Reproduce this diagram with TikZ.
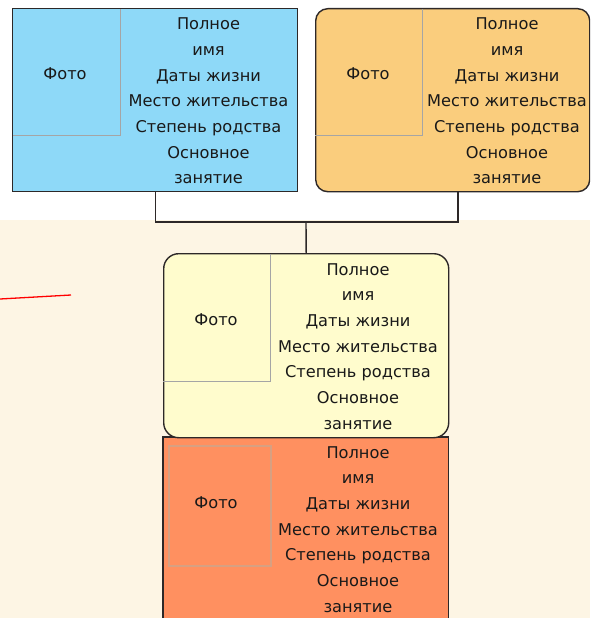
\documentclass[tikz,border=0pt]{standalone}
\usepackage{fontspec}
\setmainfont{DejaVu Sans}
\usetikzlibrary{calc}
\definecolor{cblue}{RGB}{142,217,248}
\definecolor{corange}{RGB}{250,205,125}
\definecolor{cyellow}{RGB}{255,252,205}
\definecolor{cred}{RGB}{255,144,96}
\definecolor{cbeige}{RGB}{253,245,228}
\definecolor{cframe}{RGB}{45,40,40}
\definecolor{cphoto}{RGB}{165,165,165}
\definecolor{cphotored}{RGB}{215,160,130}
\tikzset{
  card/.style={draw=cframe, line width=1.4pt, anchor=north west, inner sep=0pt},
  photo/.style={anchor=north west, inner sep=0pt},
  photoline/.style={draw=cphoto, line width=0.8pt},
  info/.style={align=center, font=\fontsize{16.2}{25.67}\selectfont, inner sep=0pt, text=black!90},
  phototext/.style={font=\fontsize{16.2}{18}\selectfont, inner sep=0pt, text=black!90},
  conn/.style={draw=cframe, line width=1.4pt},
}
\newcommand{\infotext}{Полное\\имя\\Даты жизни\\Место жительства\\Степень родства\\Основное\\занятие}
\begin{document}
\begin{tikzpicture}[x=1pt,y=-1pt]
\useasboundingbox (0,0) rectangle (590,618);
\clip (0,0) rectangle (590,618);
\fill[white] (0,0) rectangle (590,220);
\fill[cbeige] (0,220) rectangle (590,618);
% box 1
\node[card, fill=cblue, minimum width=285pt, minimum height=183pt] (b1) at (12,8) {};
\node[photo, minimum width=107pt, minimum height=126pt] (p1) at (13,9) {};
\draw[photoline] (p1.north east) -- (p1.south east) -- (p1.south west);
\node[phototext] (f1) at (65,74) {Фото};
\node[info] (t1) at (208.5,101) {\infotext};
% box 2
\node[card, fill=corange, rounded corners=12pt, minimum width=274pt, minimum height=183pt] (b2) at (315,8) {};
\node[photo, minimum width=107pt, minimum height=126pt] (p2) at (315,9) {};
\draw[photoline] (p2.north east) -- (p2.south east) -- (p2.south west);
\node[phototext] (f2) at (368,74) {Фото};
\node[info] (t2) at (507,101) {\infotext};
% box 4
\node[anchor=north west, fill=cred, minimum width=285pt, minimum height=190pt, inner sep=0pt] (b4) at (163,437) {};
\draw[conn] (b4.south west) -- (b4.north west) -- (b4.north east) -- (b4.south east);
\node[draw=cphotored, line width=2pt, anchor=north west, inner sep=0pt, minimum width=102pt, minimum height=120pt] (p4) at (168,445) {};
\node[phototext] (f4) at (216,503) {Фото};
\node[info] (t4) at (358,529.5) {\infotext};
% box 3
\node[card, fill=cyellow, rounded corners=15pt, minimum width=285pt, minimum height=184pt] (b3) at (163,253) {};
\node[photo, minimum width=107pt, minimum height=127pt] (p3) at (163,254) {};
\draw[photoline] (p3.north east) -- (p3.south east) -- (p3.south west);
\node[phototext] (f3) at (216,320) {Фото};
\node[info] (t3) at (358,346.5) {\infotext};
% connectors
\coordinate (j) at (306,222);
\coordinate (b2c) at (458,191);
\draw[conn] (b1.south) |- (j);
\draw[conn] (b2c) |- (j);
\draw[conn] (j) -- (b3.north);
% red line
\coordinate (r1) at (0,299);
\coordinate (r2) at (71,295);
\draw[red, line width=1.3pt] (r1) -- (r2);
\end{tikzpicture}
\end{document}
